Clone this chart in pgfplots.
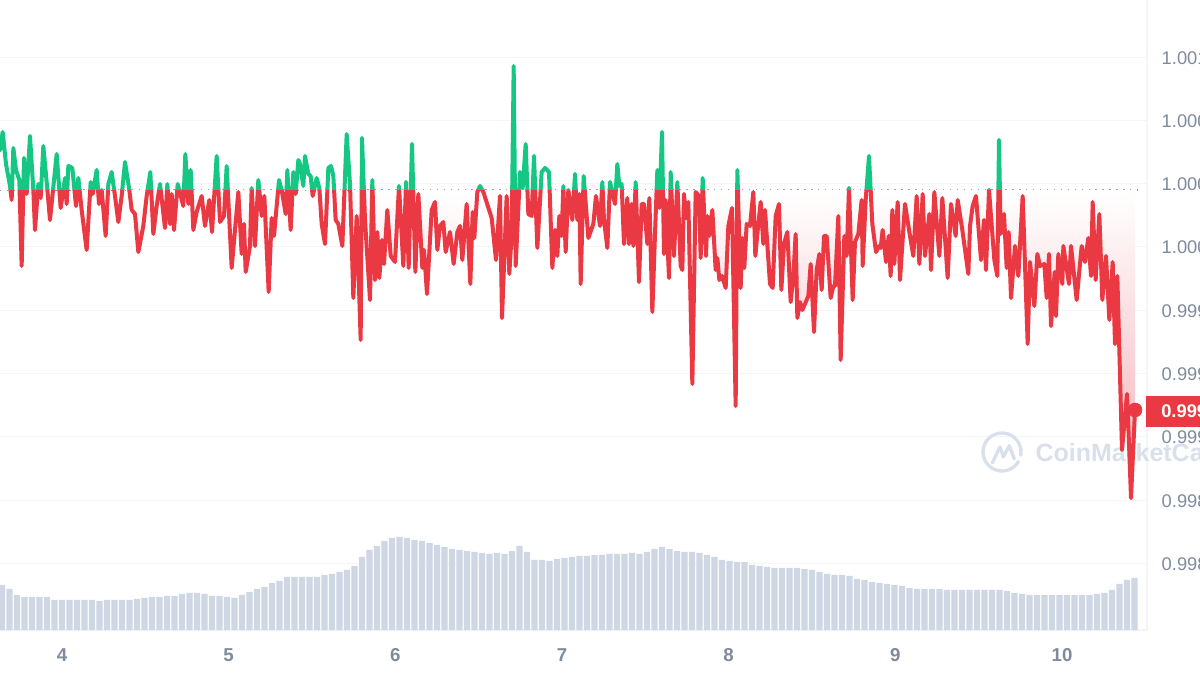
\documentclass[border=0pt]{standalone}
\usepackage{fontspec}
\setmainfont{Liberation Sans}
\usepackage{pgfplots}
\usepackage{pgfplotstable}
\pgfplotsset{compat=1.18}

\definecolor{upgreen}{HTML}{16C784}
\definecolor{downred}{HTML}{EA3943}
\definecolor{pinkdeep}{HTML}{F3AFB6}
\definecolor{gridgrey}{HTML}{F4F5F7}
\definecolor{ticktext}{HTML}{808A9D}
\definecolor{dotgrey}{HTML}{8A96AE}
\definecolor{volbar}{HTML}{CFD6E4}
\definecolor{wmgrey}{HTML}{D9E0EB}

% white at the open-price line, pink further down (path box spans 25bp to 75bp)
\pgfdeclareverticalshading{pinkfade}{100bp}{color(0bp)=(pinkdeep); color(25bp)=(pinkdeep); color(60.5bp)=(white); color(100bp)=(white)}

% price, turning points
\pgfplotstableread[row sep=\\]{
x y\\
3.628 1.00060\\ 3.644 1.00069\\ 3.664 1.00053\\ 3.688 1.00042\\ 3.698 1.00035\\ 3.708 1.00061\\ 3.724 1.00050\\ 3.744 1.00045\\ 3.758 1.00002\\ 3.772 1.00056\\
3.788 1.00038\\ 3.808 1.00067\\ 3.828 1.00040\\ 3.838 1.00020\\ 3.858 1.00043\\ 3.872 1.00036\\ 3.888 1.00062\\ 3.908 1.00044\\ 3.928 1.00025\\ 3.968 1.00058\\
3.992 1.00031\\ 4.018 1.00046\\ 4.028 1.00033\\ 4.038 1.00052\\ 4.062 1.00051\\ 4.084 1.00032\\ 4.098 1.00046\\ 4.118 1.00030\\ 4.148 1.00010\\ 4.172 1.00044\\
4.184 1.00038\\ 4.208 1.00050\\ 4.222 1.00033\\ 4.238 1.00040\\ 4.262 1.00017\\ 4.278 1.00043\\ 4.298 1.00049\\ 4.318 1.00037\\ 4.338 1.00024\\ 4.358 1.00037\\
4.378 1.00054\\ 4.404 1.00040\\ 4.418 1.00030\\ 4.438 1.00028\\ 4.458 1.00009\\ 4.488 1.00022\\ 4.508 1.00037\\ 4.530 1.00049\\ 4.548 1.00018\\ 4.568 1.00032\\
4.588 1.00043\\ 4.618 1.00021\\ 4.632 1.00043\\ 4.648 1.00023\\ 4.658 1.00038\\ 4.672 1.00020\\ 4.694 1.00043\\ 4.728 1.00032\\ 4.740 1.00058\\ 4.758 1.00033\\
4.772 1.00050\\ 4.788 1.00020\\ 4.808 1.00029\\ 4.838 1.00037\\ 4.858 1.00022\\ 4.884 1.00035\\ 4.900 1.00019\\ 4.928 1.00057\\ 4.948 1.00024\\ 4.972 1.00027\\
4.988 1.00052\\ 5.018 1.00001\\ 5.058 1.00039\\ 5.078 1.00008\\ 5.092 1.00023\\ 5.102 0.99999\\ 5.128 1.00012\\ 5.138 1.00041\\ 5.158 1.00012\\ 5.178 1.00045\\
5.198 1.00027\\ 5.214 1.00037\\ 5.240 0.99989\\ 5.258 1.00026\\ 5.272 1.00017\\ 5.302 1.00045\\ 5.318 1.00040\\ 5.342 1.00028\\ 5.352 1.00050\\ 5.372 1.00020\\
5.388 1.00049\\ 5.402 1.00038\\ 5.418 1.00055\\ 5.428 1.00053\\ 5.448 1.00042\\ 5.458 1.00057\\ 5.478 1.00048\\ 5.492 1.00047\\ 5.504 1.00037\\ 5.528 1.00046\\
5.544 1.00041\\ 5.558 1.00023\\ 5.578 1.00013\\ 5.598 1.00051\\ 5.614 1.00052\\ 5.628 1.00047\\ 5.642 1.00025\\ 5.658 1.00023\\ 5.682 1.00012\\ 5.708 1.00068\\
5.728 1.00043\\ 5.748 0.99986\\ 5.768 1.00027\\ 5.792 0.99965\\ 5.800 1.00066\\ 5.818 1.00025\\ 5.848 0.99985\\ 5.862 1.00045\\ 5.878 0.99995\\ 5.892 1.00019\\
5.904 0.99996\\ 5.920 1.00015\\ 5.932 1.00003\\ 5.952 1.00030\\ 5.972 1.00007\\ 5.998 1.00004\\ 6.022 1.00042\\ 6.048 1.00002\\ 6.064 1.00044\\ 6.080 1.00001\\
6.100 1.00063\\ 6.120 0.99999\\ 6.138 1.00038\\ 6.162 1.00001\\ 6.172 1.00010\\ 6.190 0.99988\\ 6.218 1.00030\\ 6.238 1.00034\\ 6.252 1.00010\\ 6.268 1.00022\\
6.288 1.00024\\ 6.302 1.00009\\ 6.328 1.00019\\ 6.350 1.00003\\ 6.372 1.00019\\ 6.388 1.00022\\ 6.402 1.00005\\ 6.428 1.00033\\ 6.450 0.99993\\ 6.464 1.00029\\
6.474 1.00016\\ 6.492 1.00039\\ 6.508 1.00042\\ 6.528 1.00039\\ 6.578 1.00026\\ 6.604 1.00005\\ 6.628 1.00037\\ 6.640 0.99976\\ 6.668 1.00037\\ 6.684 0.99998\\
6.698 1.00018\\ 6.710 1.00102\\ 6.722 1.00002\\ 6.748 1.00049\\ 6.764 1.00041\\ 6.782 1.00063\\ 6.798 1.00028\\ 6.818 1.00027\\ 6.832 1.00057\\ 6.852 1.00011\\
6.878 1.00049\\ 6.898 1.00051\\ 6.922 1.00049\\ 6.942 1.00001\\ 6.958 1.00020\\ 6.972 1.00007\\ 6.984 1.00027\\ 6.998 1.00017\\ 7.008 1.00042\\ 7.022 1.00009\\
7.038 1.00040\\ 7.062 1.00025\\ 7.078 1.00048\\ 7.092 1.00025\\ 7.104 1.00038\\ 7.112 0.99993\\ 7.130 1.00047\\ 7.158 1.00016\\ 7.188 1.00023\\ 7.204 1.00037\\
7.228 1.00022\\ 7.242 1.00044\\ 7.252 1.00025\\ 7.272 1.00011\\ 7.288 1.00044\\ 7.318 1.00033\\ 7.332 1.00053\\ 7.344 1.00042\\ 7.358 1.00043\\ 7.372 1.00013\\
7.392 1.00036\\ 7.402 1.00013\\ 7.418 1.00033\\ 7.428 1.00012\\ 7.442 1.00044\\ 7.462 0.99994\\ 7.478 1.00033\\ 7.492 1.00033\\ 7.512 1.00013\\ 7.524 1.00036\\
7.542 0.99979\\ 7.558 1.00018\\ 7.572 1.00050\\ 7.584 1.00031\\ 7.600 1.00069\\ 7.612 1.00008\\ 7.622 1.00035\\ 7.642 0.99996\\ 7.652 1.00049\\ 7.672 1.00007\\
7.692 1.00044\\ 7.712 1.00002\\ 7.722 1.00000\\ 7.732 1.00038\\ 7.744 1.00026\\ 7.758 1.00034\\ 7.782 0.99943\\ 7.802 1.00039\\ 7.822 1.00037\\ 7.832 1.00006\\
7.844 1.00046\\ 7.864 1.00007\\ 7.872 1.00027\\ 7.884 1.00017\\ 7.902 1.00030\\ 7.922 1.00000\\ 7.932 1.00006\\ 7.944 0.99995\\ 7.960 0.99997\\ 7.982 0.99991\\
7.998 1.00022\\ 8.020 1.00031\\ 8.042 0.99932\\ 8.052 1.00050\\ 8.072 0.99991\\ 8.082 1.00016\\ 8.094 1.00001\\ 8.108 1.00023\\ 8.128 1.00022\\ 8.148 1.00039\\
8.160 1.00007\\ 8.172 1.00018\\ 8.192 1.00034\\ 8.208 1.00013\\ 8.218 1.00030\\ 8.248 0.99993\\ 8.264 0.99991\\ 8.282 1.00027\\ 8.302 1.00033\\ 8.316 0.99990\\
8.332 1.00013\\ 8.352 1.00019\\ 8.372 0.99984\\ 8.388 0.99997\\ 8.402 1.00018\\ 8.412 0.99976\\ 8.428 0.99984\\ 8.442 0.99980\\ 8.458 0.99983\\ 8.478 0.99987\\
8.492 1.00003\\ 8.512 0.99969\\ 8.528 1.00000\\ 8.544 1.00008\\ 8.558 0.99990\\ 8.572 1.00017\\ 8.588 1.00017\\ 8.612 0.99986\\ 8.628 0.99992\\ 8.638 0.99992\\
8.658 1.00027\\ 8.672 0.99955\\ 8.694 1.00017\\ 8.708 1.00007\\ 8.722 1.00041\\ 8.744 0.99985\\ 8.758 1.00014\\ 8.778 1.00018\\ 8.798 1.00035\\ 8.804 1.00002\\
8.822 1.00035\\ 8.842 1.00057\\ 8.862 1.00023\\ 8.884 1.00009\\ 8.904 1.00012\\ 8.912 1.00011\\ 8.924 1.00020\\ 8.944 1.00004\\ 8.960 1.00017\\ 8.972 0.99997\\
8.982 1.00030\\ 8.994 1.00003\\ 9.014 1.00034\\ 9.028 0.99995\\ 9.058 1.00033\\ 9.088 1.00017\\ 9.108 1.00007\\ 9.128 1.00037\\ 9.144 1.00003\\ 9.164 1.00038\\
9.178 1.00007\\ 9.204 1.00028\\ 9.214 1.00000\\ 9.234 1.00039\\ 9.264 1.00007\\ 9.282 1.00036\\ 9.314 0.99996\\ 9.334 1.00033\\ 9.362 1.00017\\ 9.374 1.00035\\
9.402 1.00020\\ 9.438 0.99998\\ 9.448 1.00022\\ 9.464 1.00032\\ 9.484 1.00037\\ 9.514 1.00005\\ 9.532 1.00025\\ 9.544 1.00000\\ 9.562 1.00040\\ 9.594 1.00005\\
9.612 0.99997\\ 9.622 1.00065\\ 9.632 1.00018\\ 9.652 1.00028\\ 9.668 1.00001\\ 9.680 1.00019\\ 9.694 0.99986\\ 9.718 1.00012\\ 9.738 0.99997\\ 9.764 1.00037\\
9.794 0.99963\\ 9.808 1.00004\\ 9.834 0.99982\\ 9.852 1.00008\\ 9.868 1.00002\\ 9.894 1.00003\\ 9.908 0.99986\\ 9.922 1.00008\\ 9.934 0.99972\\ 9.956 0.99999\\
9.964 0.99977\\ 9.978 1.00008\\ 10.002 0.99993\\ 10.008 1.00012\\ 10.042 0.99993\\ 10.054 1.00012\\ 10.088 0.99985\\ 10.118 1.00012\\ 10.138 1.00004\\ 10.158 1.00016\\
10.174 0.99997\\ 10.184 1.00034\\ 10.202 0.99995\\ 10.224 1.00028\\ 10.242 0.99985\\ 10.264 1.00007\\ 10.284 0.99975\\ 10.304 1.00004\\ 10.318 0.99963\\ 10.332 0.99997\\
10.360 0.99910\\ 10.390 0.99938\\ 10.402 0.99913\\ 10.414 0.99886\\ 10.438 0.99930\\
}\pricedata

% volume bars, no scale in the picture so heights are relative
\pgfplotstableread[row sep=\\]{
x v\\
3.640 45\\ 3.685 41\\ 3.730 35\\ 3.775 33\\ 3.820 33\\ 3.865 33\\ 3.910 33\\ 3.955 30\\
4.000 30\\ 4.045 30\\ 4.090 30\\ 4.135 30\\ 4.180 30\\ 4.225 29\\ 4.270 30\\ 4.315 30\\
4.360 30\\ 4.405 30\\ 4.450 31\\ 4.495 32\\ 4.540 33\\ 4.585 33\\ 4.630 34\\ 4.675 34\\
4.720 36\\ 4.765 37\\ 4.810 37\\ 4.855 36\\ 4.900 34\\ 4.945 34\\ 4.990 33\\ 5.035 32\\
5.080 35\\ 5.125 38\\ 5.170 41\\ 5.215 43\\ 5.260 47\\ 5.305 49\\ 5.350 53\\ 5.395 53\\
5.440 53\\ 5.485 53\\ 5.530 53\\ 5.575 55\\ 5.620 56\\ 5.665 58\\ 5.710 60\\ 5.755 64\\
5.800 73\\ 5.845 80\\ 5.890 84\\ 5.935 89\\ 5.980 92\\ 6.025 93\\ 6.070 92\\ 6.115 90\\
6.160 89\\ 6.205 87\\ 6.250 85\\ 6.295 83\\ 6.340 81\\ 6.385 80\\ 6.430 79\\ 6.475 78\\
6.520 77\\ 6.565 76\\ 6.610 77\\ 6.655 76\\ 6.700 79\\ 6.745 84\\ 6.790 78\\ 6.835 70\\
6.880 70\\ 6.925 69\\ 6.970 71\\ 7.015 72\\ 7.060 73\\ 7.105 74\\ 7.150 74\\ 7.195 75\\
7.240 75\\ 7.285 76\\ 7.330 76\\ 7.375 76\\ 7.420 77\\ 7.465 76\\ 7.510 78\\ 7.555 81\\
7.600 83\\ 7.645 81\\ 7.690 79\\ 7.735 78\\ 7.780 78\\ 7.825 77\\ 7.870 75\\ 7.915 73\\
7.960 70\\ 8.005 69\\ 8.050 68\\ 8.095 68\\ 8.140 65\\ 8.185 64\\ 8.230 63\\ 8.275 62\\
8.320 62\\ 8.365 62\\ 8.410 62\\ 8.455 61\\ 8.500 60\\ 8.545 58\\ 8.590 56\\ 8.635 55\\
8.680 55\\ 8.725 54\\ 8.770 51\\ 8.815 50\\ 8.860 48\\ 8.905 47\\ 8.950 46\\ 8.995 45\\
9.040 44\\ 9.085 42\\ 9.130 41\\ 9.175 41\\ 9.220 41\\ 9.265 41\\ 9.310 40\\ 9.355 40\\
9.400 40\\ 9.445 40\\ 9.490 40\\ 9.535 40\\ 9.580 40\\ 9.625 40\\ 9.670 39\\ 9.715 37\\
9.760 36\\ 9.805 35\\ 9.850 35\\ 9.895 35\\ 9.940 35\\ 9.985 35\\ 10.030 35\\ 10.075 35\\
10.120 35\\ 10.165 35\\ 10.210 36\\ 10.255 37\\ 10.300 40\\ 10.345 46\\ 10.390 50\\ 10.435 52\\
}\voldata

% 1 reference pixel = 0.75pt, all axes share the x range
\pgfplotsset{
  chart/.style={
    scale only axis, width=860.25pt, anchor=south west,
    xmin=3.628, xmax=10.51,
  },
}

\begin{document}
\begin{tikzpicture}
\path[clip,use as bounding box] (0pt,0pt) rectangle (900pt,506.25pt);

% frame, grid, ticks
\begin{axis}[
  chart, at={(0pt,33.75pt)}, height=472.5pt,
  ymin=0.9982, ymax=1.00135,
  axis x line*=bottom, axis y line*=right,
  axis line style={gridgrey, line width=0.9pt, -},
  xtick={4,5,6,7,8,9,10},
  xticklabels={4,5,6,7,8,9,10},
  ytick={1.00106,1.000745,1.00043,1.000115,0.999795,0.99948,0.999165,0.998845,0.99853},
  yticklabels={1.0011,1.0007,1.0004,1.0001,0.9998,0.9995,0.9992,0.9988,0.9985},
  ymajorgrids, grid style={gridgrey, line width=0.75pt},
  x tick style={gridgrey, line width=0.75pt},
  y tick style={draw=none},
  major tick length=3pt,
  xticklabel style={font=\fontsize{14}{16}\selectfont\bfseries, text=ticktext, yshift=-10.5pt},
  yticklabel style={font=\fontsize{13.75}{16}\selectfont, text=ticktext, anchor=west, xshift=7.5pt},
  scaled y ticks=false,
]
\addplot[dotgrey, line width=1pt, dash pattern=on 1pt off 4.2pt] coordinates {(3.628,1.0004)(10.49,1.0004)};
\end{axis}

% volume
\begin{axis}[
  chart, at={(0pt,33.75pt)}, height=472.5pt,
  ymin=0, ymax=630, hide axis,
]
\addplot[ybar, bar width=4.7pt, bar shift=0pt, draw=none, fill=volbar] table[x=x, y=v] {\voldata};
\end{axis}

% watermark
\node[anchor=base west, inner sep=0pt, text=wmgrey, font=\fontsize{18.75}{22}\selectfont\bfseries] at (776.5pt,159.75pt) {CoinMarketCap};
\draw[wmgrey, line width=2.5pt, line cap=round] (751.5pt,167.25pt) ++(-30:14.25pt) arc[start angle=-30, end angle=-370, radius=14.25pt];
\draw[wmgrey, line width=2.5pt, line cap=round, line join=round] (744.2pt,159pt) -- (750pt,171pt) -- (752.5pt,163.5pt) -- (757pt,172pt) -- (760.7pt,162pt);

% below the open price: area and red line, clipped by this axis
\begin{axis}[
  chart, at={(0pt,33.75pt)}, height=330pt,
  ymin=0.9982, ymax=1.0004, hide axis,
]
\addplot[draw=none, shade, shading=pinkfade] table[x=x, y=y] {\pricedata}
  -- (axis cs:10.438,1.0004) -- (axis cs:3.628,1.0004) -- cycle;
\addplot[downred, line width=3pt, line join=round, line cap=round] table[x=x, y=y] {\pricedata};
\addplot[only marks, mark=*, mark size=5.25pt, mark options={fill=downred, draw=downred}] coordinates {(10.438,0.99930)};
\end{axis}

% above the open price: green line
\begin{axis}[
  chart, at={(0pt,363.75pt)}, height=142.5pt,
  ymin=1.0004, ymax=1.00135, hide axis,
]
\addplot[upgreen, line width=3pt, line join=round, line cap=round] table[x=x, y=y] {\pricedata};
\end{axis}

% current price tag
\fill[downred] (859.5pt,186pt) rectangle (900pt,209.25pt);
\node[anchor=west, text=white, inner sep=0pt, font=\fontsize{13.75}{16}\selectfont\bfseries] at (870.75pt,197.6pt) {0.9993};
\end{tikzpicture}
\end{document}
